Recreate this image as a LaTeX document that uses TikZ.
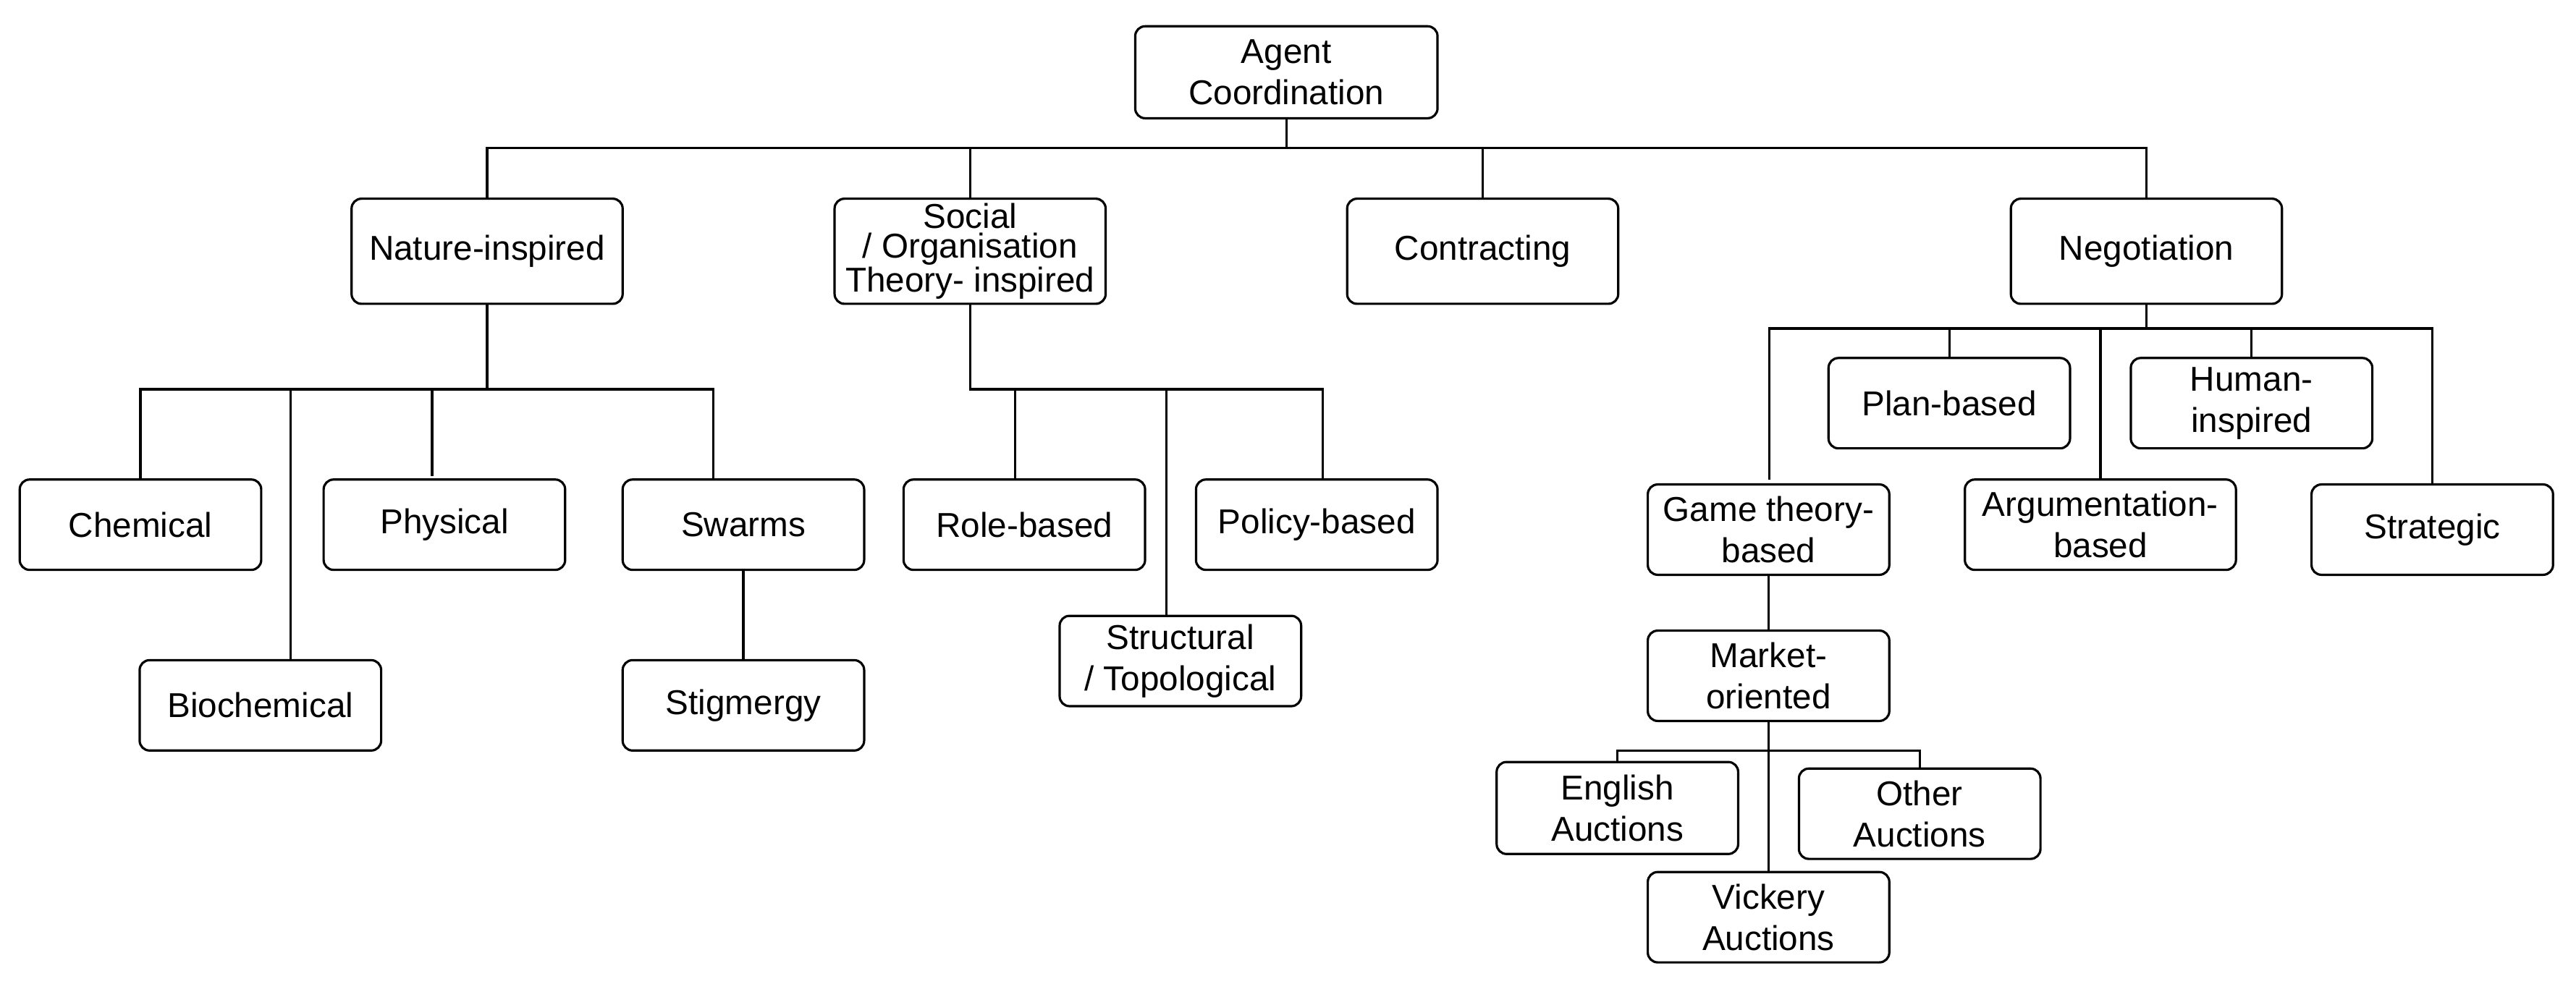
\documentclass[tikz,border=0pt]{standalone}
\usepackage{fontspec}
\setmainfont{Liberation Sans}
\begin{document}
\begin{tikzpicture}[x=1pt,y=-1pt,
 box/.style={draw,line width=1.4pt,rounded corners=6pt,align=center,inner sep=0pt,font=\fontsize{21}{25}\selectfont},
 ln/.style={line width=1.4pt}]
\useasboundingbox (0,0) rectangle (1568,599);
\newcommand\bx[6]{\node[box,minimum width=#4-#2,minimum height=#5-#3] (#1) at ({(#2+#4)/2},{(#3+#5)/2}) {#6};}
\bx{root}{691}{16}{875}{72}{Agent\\Coordination}
\bx{nat}{214}{121}{379}{185}{Nature-inspired}
\node[box,minimum width=165,minimum height=64,font=\fontsize{21}{18}\selectfont] (soc) at (590.5,153) {Social\\ / Organisation\\Theory- inspired};
\bx{con}{820}{121}{985}{185}{Contracting}
\bx{neg}{1224}{121}{1389}{185}{Negotiation}
\bx{che}{12}{292}{159}{347}{Chemical}
\bx{phy}{197}{292}{344}{347}{Physical}
\bx{swa}{379}{292}{526}{347}{Swarms}
\bx{bio}{85}{402}{232}{457}{Biochemical}
\bx{sti}{379}{402}{526}{457}{Stigmergy}
\bx{rol}{550}{292}{697}{347}{Role-based}
\bx{pol}{728}{292}{875}{347}{Policy-based}
\bx{str}{645}{375}{792}{430}{Structural\\/ Topological}
\bx{pla}{1113}{218}{1260}{273}{Plan-based}
\bx{hum}{1297}{218}{1444}{273}{Human-\\inspired}
\bx{gam}{1003}{295}{1150}{350}{Game theory-\\based}
\bx{arg}{1196}{292}{1361}{347}{Argumentation-\\based}
\bx{stg}{1407}{295}{1554}{350}{Strategic}
\bx{mar}{1003}{384}{1150}{439}{Market-\\oriented}
\bx{eng}{911}{464}{1058}{520}{English\\Auctions}
\bx{oth}{1095}{468}{1242}{523}{Other\\Auctions}
\bx{vic}{1003}{531}{1150}{586}{Vickery\\Auctions}
\coordinate (b0) at (783,90);
\coordinate (b1) at (296.5,237);
\coordinate (b2) at (590.5,237);
\coordinate (b3) at (1306.5,200);
\coordinate (b4) at (1076.5,457);
\draw[ln] (root.south) -- (b0);
\draw[ln] (nat.north) |- (b0) -| (neg.north);
\draw[ln] (soc.north) -- (soc.north |- b0);
\draw[ln] (con.north) -- (con.north |- b0);
\draw[ln] (nat.south) -- (b1);
\draw[ln] (che.north) |- (b1) -| (434,292) coordinate (s1);
\draw[ln] (bio.north -| 177,0) -- (177,237);
\draw[ln] (263,290) coordinate (p1) -- (p1 |- b1);
\draw[ln] (swa.south) -- (sti.north);
\draw[ln] (soc.south) -- (b2) -| (805,292) coordinate (s2);
\draw[ln] (618,292) coordinate (r1) -- (r1 |- b2);
\draw[ln] (str.north -| 710,0) -- (710,237);
\draw[ln] (neg.south) -- (b3);
\draw[ln] (1077,292) coordinate (g1) |- (b3) -| (stg.north);
\draw[ln] (pla.north) -- (pla.north |- b3);
\draw[ln] (hum.north) -- (hum.north |- b3);
\draw[ln] (arg.north) -- (arg.north |- b3);
\draw[ln] (gam.south) -- (mar.north);
\draw[ln] (mar.south) -- (b4);
\draw[ln] (eng.north) |- (b4) -| (oth.north);
\draw[ln] (b4) -- (vic.north);
\end{tikzpicture}
\end{document}
